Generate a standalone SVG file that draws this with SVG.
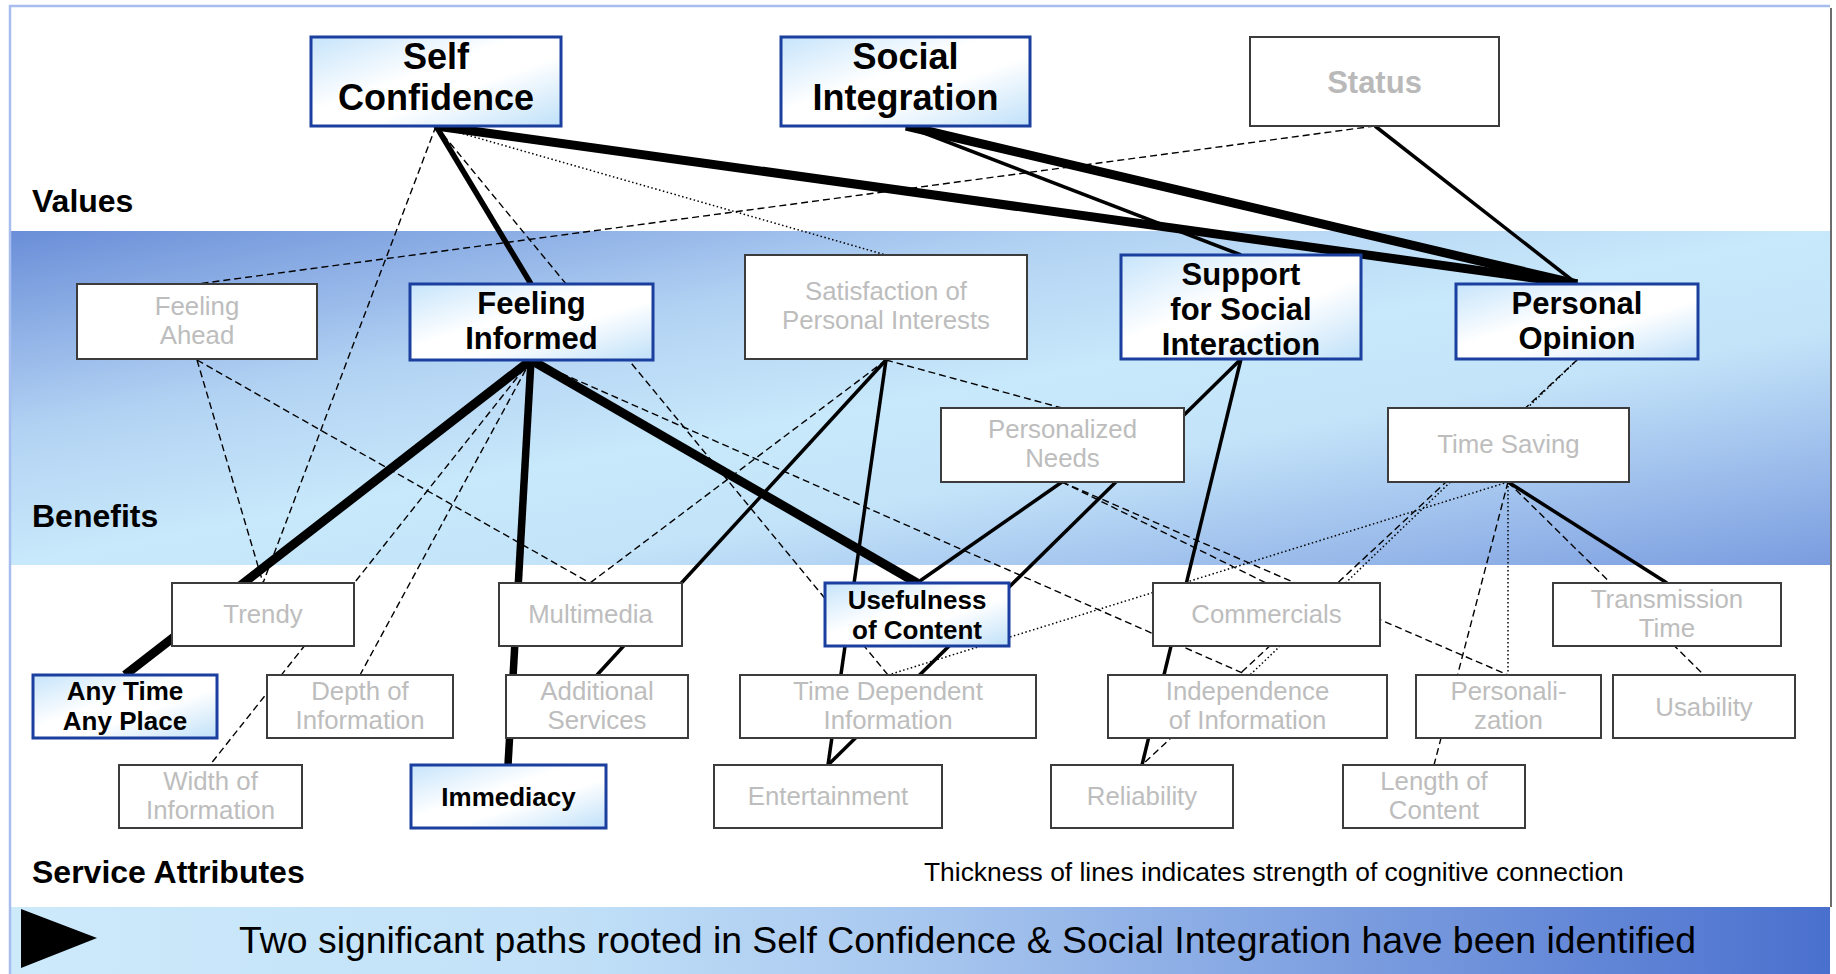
<svg xmlns="http://www.w3.org/2000/svg" width="1836" height="974" viewBox="0 0 1836 974">
  <defs>
    <linearGradient id="gBand" x1="0" y1="0" x2="1" y2="1">
      <stop offset="0" stop-color="#6a8ed8"/>
      <stop offset="0.3" stop-color="#b2d2f3"/>
      <stop offset="0.5" stop-color="#c8e8fb"/>
      <stop offset="0.65" stop-color="#c3e3f9"/>
      <stop offset="1" stop-color="#7a9cdf"/>
    </linearGradient>
    <linearGradient id="gFoot" x1="0" y1="0" x2="1" y2="0">
      <stop offset="0" stop-color="#cdeafb"/>
      <stop offset="0.3" stop-color="#c2e1f8"/>
      <stop offset="0.5" stop-color="#a8c7ef"/>
      <stop offset="1" stop-color="#4a70ce"/>
    </linearGradient>
    <linearGradient id="gNode" x1="0" y1="0" x2="1" y2="1">
      <stop offset="0" stop-color="#c6e4fb"/>
      <stop offset="0.42" stop-color="#ffffff"/>
      <stop offset="0.6" stop-color="#ffffff"/>
      <stop offset="1" stop-color="#bfe0f9"/>
    </linearGradient>
    <style>
      text { font-family: "Liberation Sans", Arial, sans-serif; }
      .lbl { font-size: 32px; font-weight: bold; fill: #000; }
      .nb rect { fill: url(#gNode); stroke: #1b3f9e; stroke-width: 3; }
      .ng rect { fill: #fff; stroke: #3c3c3c; stroke-width: 2; }
      .nb text { font-weight: bold; fill: #000; text-anchor: middle; }
      .ng text { fill: #bdbdbd; text-anchor: middle; }
      .v text { font-size: 36px; }
      .b text { font-size: 31px; }
      .a text { font-size: 26px; }
      .ng.a text { font-size: 25.8px; }
      #status text { font-weight: bold; fill: #b9b9b9; font-size: 31px; }
      #connectors line { stroke: #000; fill: none; }
      .s9 { stroke-width: 9; }
      .s7 { stroke-width: 7.5; }
      .s5 { stroke-width: 5.5; }
      .s3 { stroke-width: 3.5; }
      .d { stroke-width: 1.4; stroke-dasharray: 7 4; }
      .o { stroke-width: 1.5; stroke-dasharray: 1.5 2.5; }
    </style>
  </defs>

  <!-- page and bands -->
  <rect x="0" y="0" width="1836" height="974" fill="#fff"/>
  <rect x="10" y="231" width="1820" height="334" fill="url(#gBand)"/>
  <rect x="10" y="907" width="1820" height="67" fill="url(#gFoot)"/>
  <path d="M10,974 V6 H1830" fill="none" stroke="#a6bdee" stroke-width="2.5"/>
  <line x1="1831" y1="8" x2="1831" y2="907" stroke="#6d6d6d" stroke-width="2"/>

  <!-- level labels -->
  <text class="lbl" x="32" y="212">Values</text>
  <text class="lbl" x="32" y="527">Benefits</text>
  <text class="lbl" x="32" y="883">Service Attributes</text>
  <text x="924" y="881" font-size="26.4">Thickness of lines indicates strength of cognitive connection</text>

  <!-- connectors -->
  <g id="connectors">
    <!-- strongest links -->
    <line class="s9" x1="436" y1="126" x2="1577" y2="284"/>
    <line class="s9" x1="906" y1="126" x2="1577" y2="284"/>
    <line class="s9" x1="531" y1="360" x2="125" y2="675"/>
    <line class="s9" x1="531" y1="360" x2="917" y2="583"/>
    <line class="s7" x1="531" y1="360" x2="508" y2="765"/>
    <line class="s5" x1="436" y1="126" x2="531" y2="284"/>
    <!-- medium links -->
    <line class="s3" x1="906" y1="126" x2="1241" y2="255"/>
    <line class="s3" x1="1375" y1="126" x2="1577" y2="284"/>
    <line class="s3" x1="886" y1="360" x2="597" y2="675"/>
    <line class="s3" x1="886" y1="360" x2="828" y2="765"/>
    <line class="s3" x1="1241" y1="359" x2="828" y2="765"/>
    <line class="s3" x1="1241" y1="359" x2="1142" y2="765"/>
    <line class="s3" x1="1062" y1="482" x2="917" y2="583"/>
    <line class="s3" x1="1508" y1="482" x2="1667" y2="583"/>
    <!-- weak links -->
    <line class="d" x1="1375" y1="126" x2="197" y2="284"/>
    <line class="d" x1="436" y1="126" x2="263" y2="583"/>
    <line class="d" x1="436" y1="126" x2="888" y2="675"/>
    <line class="d" x1="197" y1="360" x2="263" y2="583"/>
    <line class="d" x1="197" y1="360" x2="590" y2="583"/>
    <line class="d" x1="531" y1="360" x2="210" y2="765"/>
    <line class="d" x1="531" y1="360" x2="360" y2="675"/>
    <line class="d" x1="531" y1="360" x2="1247" y2="675"/>
    <line class="d" x1="886" y1="360" x2="590" y2="583"/>
    <line class="d" x1="886" y1="360" x2="1062" y2="408"/>
    <line class="d" x1="1062" y1="482" x2="1266" y2="583"/>
    <line class="d" x1="1062" y1="482" x2="1508" y2="675"/>
    <line class="d" x1="1577" y1="360" x2="1142" y2="765"/>
    <line class="d" x1="1508" y1="482" x2="1704" y2="675"/>
    <line class="d" x1="1508" y1="482" x2="1434" y2="765"/>
    <!-- very weak links -->
    <line class="o" x1="436" y1="126" x2="886" y2="255"/>
    <line class="o" x1="1577" y1="360" x2="1250" y2="675"/>
    <line class="o" x1="1508" y1="482" x2="1508" y2="675"/>
    <line class="o" x1="1508" y1="482" x2="888" y2="675"/>
  </g>

  <!-- values -->
  <g id="self-confidence" class="nb v">
    <rect x="311" y="37" width="250" height="89"/>
    <text x="436" y="69">Self</text>
    <text x="436" y="110">Confidence</text>
  </g>
  <g id="social-integration" class="nb v">
    <rect x="781" y="37" width="249" height="89"/>
    <text x="905.5" y="69">Social</text>
    <text x="905.5" y="110">Integration</text>
  </g>
  <g id="status" class="ng">
    <rect x="1250" y="37" width="249" height="89"/>
    <text x="1374.5" y="93">Status</text>
  </g>

  <!-- benefits -->
  <g id="feeling-ahead" class="ng a">
    <rect x="77" y="284" width="240" height="75"/>
    <text x="197" y="315">Feeling</text>
    <text x="197" y="344">Ahead</text>
  </g>
  <g id="feeling-informed" class="nb b">
    <rect x="410" y="284" width="243" height="76"/>
    <text x="531.5" y="314">Feeling</text>
    <text x="531.5" y="349">Informed</text>
  </g>
  <g id="satisfaction" class="ng a">
    <rect x="745" y="255" width="282" height="104"/>
    <text x="886" y="300">Satisfaction of</text>
    <text x="886" y="329">Personal Interests</text>
  </g>
  <g id="social-interaction" class="nb b">
    <rect x="1121" y="255" width="240" height="104"/>
    <text x="1241" y="285">Support</text>
    <text x="1241" y="320">for Social</text>
    <text x="1241" y="355">Interaction</text>
  </g>
  <g id="personal-opinion" class="nb b">
    <rect x="1456" y="284" width="242" height="75"/>
    <text x="1577" y="314">Personal</text>
    <text x="1577" y="349">Opinion</text>
  </g>
  <g id="personalized-needs" class="ng a">
    <rect x="941" y="408" width="243" height="74"/>
    <text x="1062.5" y="438">Personalized</text>
    <text x="1062.5" y="467">Needs</text>
  </g>
  <g id="time-saving" class="ng a">
    <rect x="1388" y="408" width="241" height="74"/>
    <text x="1508.5" y="453">Time Saving</text>
  </g>

  <!-- service attributes, first row -->
  <g id="trendy" class="ng a">
    <rect x="172" y="583" width="182" height="63"/>
    <text x="263" y="623">Trendy</text>
  </g>
  <g id="multimedia" class="ng a">
    <rect x="499" y="583" width="183" height="63"/>
    <text x="590.5" y="623">Multimedia</text>
  </g>
  <g id="usefulness" class="nb a">
    <rect x="825" y="583" width="184" height="63"/>
    <text x="917" y="609">Usefulness</text>
    <text x="917" y="638.5">of Content</text>
  </g>
  <g id="commercials" class="ng a">
    <rect x="1153" y="583" width="227" height="63"/>
    <text x="1266.5" y="623">Commercials</text>
  </g>
  <g id="transmission-time" class="ng a">
    <rect x="1553" y="583" width="228" height="63"/>
    <text x="1667" y="608">Transmission</text>
    <text x="1667" y="637">Time</text>
  </g>

  <!-- service attributes, second row -->
  <g id="any-time" class="nb a">
    <rect x="33" y="675" width="184" height="63"/>
    <text x="125" y="700">Any Time</text>
    <text x="125" y="729.5">Any Place</text>
  </g>
  <g id="depth" class="ng a">
    <rect x="267" y="675" width="186" height="63"/>
    <text x="360" y="700">Depth of</text>
    <text x="360" y="729">Information</text>
  </g>
  <g id="additional-services" class="ng a">
    <rect x="506" y="675" width="182" height="63"/>
    <text x="597" y="700">Additional</text>
    <text x="597" y="729">Services</text>
  </g>
  <g id="time-dependent" class="ng a">
    <rect x="740" y="675" width="296" height="63"/>
    <text x="888" y="700">Time Dependent</text>
    <text x="888" y="729">Information</text>
  </g>
  <g id="independence" class="ng a">
    <rect x="1108" y="675" width="279" height="63"/>
    <text x="1247.5" y="700">Independence</text>
    <text x="1247.5" y="729">of Information</text>
  </g>
  <g id="personalization" class="ng a">
    <rect x="1416" y="675" width="185" height="63"/>
    <text x="1508.5" y="700">Personali-</text>
    <text x="1508.5" y="729">zation</text>
  </g>
  <g id="usability" class="ng a">
    <rect x="1613" y="675" width="182" height="63"/>
    <text x="1704" y="716">Usability</text>
  </g>

  <!-- service attributes, third row -->
  <g id="width" class="ng a">
    <rect x="119" y="765" width="183" height="63"/>
    <text x="210.5" y="790">Width of</text>
    <text x="210.5" y="819">Information</text>
  </g>
  <g id="immediacy" class="nb a">
    <rect x="411" y="765" width="195" height="63"/>
    <text x="508.5" y="806">Immediacy</text>
  </g>
  <g id="entertainment" class="ng a">
    <rect x="714" y="765" width="228" height="63"/>
    <text x="828" y="805">Entertainment</text>
  </g>
  <g id="reliability" class="ng a">
    <rect x="1051" y="765" width="182" height="63"/>
    <text x="1142" y="805">Reliability</text>
  </g>
  <g id="length" class="ng a">
    <rect x="1343" y="765" width="182" height="63"/>
    <text x="1434" y="790">Length of</text>
    <text x="1434" y="819">Content</text>
  </g>

  <!-- conclusion bar -->
  <polygon points="21,909 97,938 21,968" fill="#000"/>
  <text x="239" y="953" font-size="37.4">Two significant paths rooted in Self Confidence &amp; Social Integration have been identified</text>
</svg>
